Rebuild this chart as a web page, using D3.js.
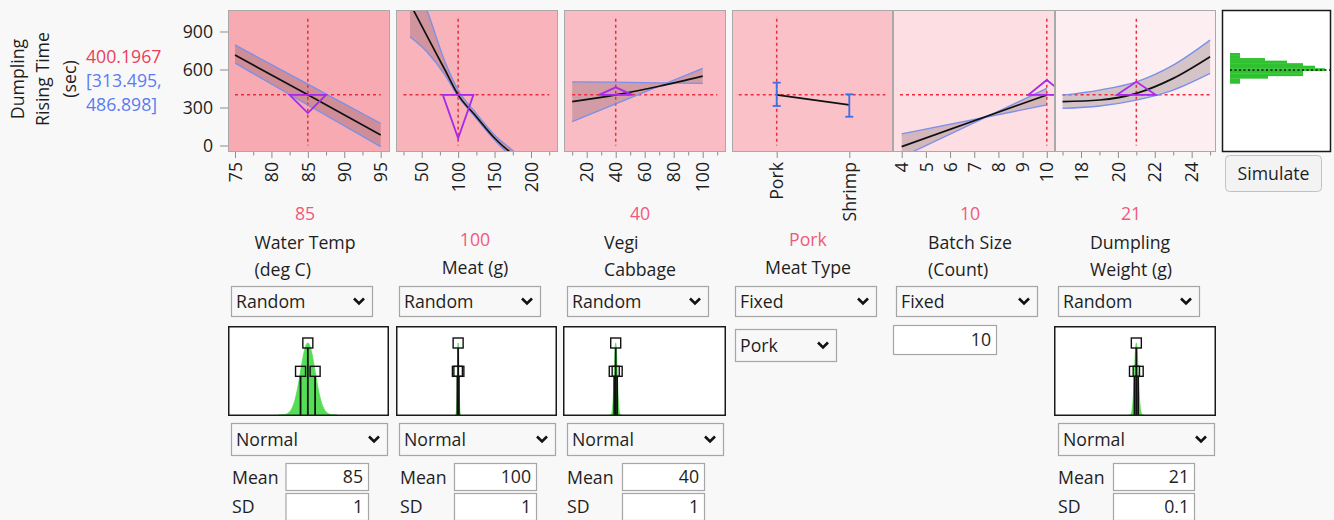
<!DOCTYPE html>
<html><head><meta charset="utf-8">
<script src="https://cdn.jsdelivr.net/npm/d3@7"></script>
<style>
html,body{margin:0;padding:0;background:#f8f8f8;}
svg{display:block;font-family:"Open Sans","Noto Sans",sans-serif;}
</style></head><body>
<svg id="c" width="1334" height="520"></svg>
<script>
// ---------------- data ----------------
const responseName = ["Dumpling","Rising Time","(sec)"];
const predictedText = "400.1967";
const ciText = ["[313.495,","486.898]"];
const predicted = 400.1967;
const yTicks = [0,300,600,900];

const factorLabels = [["Water Temp","(deg C)"],["Meat (g)"],["Vegi","Cabbage"],["Meat Type"],["Batch Size","(Count)"],["Dumpling","Weight (g)"]];
const currentText = ["85","100","40","Pork","10","21"];
const currentX = [85,100,40,"Pork",10,21];
const panelShade = ["#f7aab2","#f8b3bb","#f9bcc4","#fac1c8","#fddee2","#fdeff1"];

// Water Temp (deg C)
const tempX = [75,85,95];
const tempPred = [714,400,83];
const tempHi = [794,485,175];
const tempLo = [651,320,-9];
const tempMajor = [75,80,85,90,95];
const tempMinor = [77.5,82.5,87.5,92.5];

// Meat (g)
const meatX = [34,59,82,100,123,150,171,185];
const meatPred = [1120,846,596,400,241,59,-49,-95];
const meatBandX = [34,57,82,100,123,150,175,185];
const meatHi = [1350,1070,661,438,267,83,-40,-90];
const meatLo = [859,740,556,385,227,43,-100,-150];
const meatMajor = [50,100,150,200];
const meatMinor = [25,75,125,175,225];

// Vegi Cabbage
const vegX = [10,40,70,100];
const vegPred = [346,400,468,548];
const vegA = [503,500,495,490];
const vegB = [188,328,468,609];
const vegMajor = [20,40,60,80,100];
const vegMinor = [10,30,50,70,90,110];

// Meat Type
const meatTypes = ["Pork","Shrimp"];
const typePred = [400,320];
const typeLo = [312,227];
const typeHi = [496,404];

// Batch Size (Count)
const batchX = [4,10];
const batchPred = [-9,399];
const batchA = [91,320];
const batchB = [-91,451];
const batchMajor = [4,5,6,7,8,9,10];

// Dumpling Weight (g)
const wtX = [17,19,21,23,25];
const wtPred = [346,359,412,530,701];
const wtHi = [398,438,503,635,832];
const wtLo = [293,312,359,438,569];
const wtMajor = [18,20,22,24];
const wtMinor = [17,19,21,23,25];

// triangles (half-width in factor units, apex response value)
const triHalf = [2.5,21,11.5,null,0.76,1.05];
const triApex = [256,57,459,null,517,503];
// reference-line extents along factor
const refRange = [[75,95],[25,225],[10,110],null,[3.93,10.3],[17,25]];

// simulator settings
const modes = ["Random","Random","Random","Fixed","Fixed","Random"];
const distType = "Normal";
const distMean = [85,100,40,null,null,21];
const distSD = [1,1,1,null,null,0.1];
const meanText = ["85","100","40",null,null,"21"];
const sdText = ["1","1","1",null,null,"0.1"];
const fixedType = "Pork";
const fixedBatch = "10";

// simulated response histogram
const simBinStart = [490,510,530,550,570,590,610,630,650,670,690,710];
const simCounts = [10,10,38,73,73,95,85,73,57,35,10,10];
const simMean = 596;

// ---------------- drawing ----------------
const FS = 17.7;
const TXT = "#1e1e1e";
const svg = d3.select("#c");
svg.append("rect").attr("width",1334).attr("height",520).attr("fill","#f8f8f8");

const pTop = 10, pBot = 152;
const y = d3.scaleLinear().domain([-51.3,1069.7]).range([pBot,pTop]);
const px = [[228,390],[396,558],[564,726],[732,893],[893,1055],[1055,1216]];
const xs = [
  d3.scaleLinear().domain([74.04,96.28]).range(px[0]),
  d3.scaleLinear().domain([14.73,237.05]).range(px[1]),
  d3.scaleLinear().domain([4.34,116.07]).range(px[2]),
  d3.scalePoint().domain(meatTypes).range([776.7,849.3]),
  d3.scaleLinear().domain([3.64,10.34]).range(px[4]),
  d3.scaleLinear().domain([16.59,25.32]).range(px[5])
];

const defs = svg.append("defs");
px.forEach((p,i)=>{
  defs.append("clipPath").attr("id","clip"+i).append("rect")
    .attr("x",p[0]).attr("y",pTop).attr("width",p[1]-p[0]).attr("height",pBot-pTop);
});

const curves = [
  {x:tempX, pred:tempPred, bx:tempX, a:tempHi, b:tempLo},
  {x:meatX, pred:meatPred, bx:meatBandX, a:meatHi, b:meatLo},
  {x:vegX, pred:vegPred, bx:vegX, a:vegA, b:vegB},
  null,
  {x:batchX, pred:batchPred, bx:batchX, a:batchA, b:batchB},
  {x:wtX, pred:wtPred, bx:wtX, a:wtHi, b:wtLo}
];

const RED = "#ee2a3c", BLUE = "#7a90ea", PURPLE = "#a82ae8";

px.forEach((p,i)=>{
  const g = svg.append("g");
  g.append("rect").attr("x",p[0]).attr("y",pTop).attr("width",p[1]-p[0]).attr("height",pBot-pTop)
    .attr("fill",panelShade[i]);
  const c = g.append("g").attr("clip-path",`url(#clip${i})`);
  const X = xs[i];
  if (curves[i]) {
    const cv = curves[i];
    const band = cv.bx.map((v,k)=>({x:v,a:cv.a[k],b:cv.b[k]}));
    c.append("path").datum(band)
      .attr("d",d3.area().x(d=>X(d.x)).y0(d=>y(d.a)).y1(d=>y(d.b)).curve(d3.curveMonotoneX))
      .attr("fill","rgba(70,45,55,0.22)");
    c.append("line").attr("x1",X(refRange[i][0])).attr("x2",X(refRange[i][1]))
      .attr("y1",y(predicted)).attr("y2",y(predicted))
      .attr("stroke",RED).attr("stroke-width",1.5).attr("stroke-dasharray","3,3");
    c.append("line").attr("x1",X(currentX[i])).attr("x2",X(currentX[i]))
      .attr("y1",y(1000)).attr("y2",y(0))
      .attr("stroke",RED).attr("stroke-width",1.5).attr("stroke-dasharray","3,3");
    ["a","b"].forEach(k=>{
      c.append("path").datum(band)
        .attr("d",d3.line().x(d=>X(d.x)).y(d=>y(d[k])).curve(d3.curveMonotoneX))
        .attr("fill","none").attr("stroke",BLUE).attr("stroke-width",1.3);
    });
    const pts = cv.x.map((v,k)=>({x:v,v:cv.pred[k]}));
    c.append("path").datum(pts)
      .attr("d",d3.line().x(d=>X(d.x)).y(d=>y(d.v)).curve(d3.curveMonotoneX))
      .attr("fill","none").attr("stroke","#111").attr("stroke-width",1.7);
    const cx = currentX[i], h = triHalf[i];
    const tri = [[X(cx-h),y(predicted)],[X(cx+h),y(predicted)],[X(cx),y(triApex[i])]];
    c.append("path").attr("d",d3.line()(tri)+"Z")
      .attr("fill","none").attr("stroke",PURPLE).attr("stroke-width",1.8);
  } else {
    const xp = X("Pork"), xsh = X("Shrimp");
    c.append("line").attr("x1",xp-38).attr("x2",xsh+36)
      .attr("y1",y(predicted)).attr("y2",y(predicted))
      .attr("stroke",RED).attr("stroke-width",1.5).attr("stroke-dasharray","3,3");
    c.append("line").attr("x1",xp).attr("x2",xp).attr("y1",y(1000)).attr("y2",y(0))
      .attr("stroke",RED).attr("stroke-width",1.5).attr("stroke-dasharray","3,3");
    c.append("path").datum(meatTypes.map((t,k)=>({t,v:typePred[k]})))
      .attr("d",d3.line().x(d=>X(d.t)).y(d=>y(d.v)))
      .attr("fill","none").attr("stroke","#111").attr("stroke-width",1.7);
    meatTypes.forEach((t,k)=>{
      const xx = X(t);
      c.append("line").attr("x1",xx).attr("x2",xx).attr("y1",y(typeLo[k])).attr("y2",y(typeHi[k]))
        .attr("stroke","#3e6ee6").attr("stroke-width",1.8);
      [typeLo[k],typeHi[k]].forEach(v=>{
        c.append("line").attr("x1",xx-4).attr("x2",xx+4).attr("y1",y(v)).attr("y2",y(v))
          .attr("stroke","#3e6ee6").attr("stroke-width",1.8);
      });
    });
  }
  g.append("rect").attr("x",p[0]+0.5).attr("y",pTop+0.5).attr("width",p[1]-p[0]-1).attr("height",pBot-pTop-1)
    .attr("fill","none").attr("stroke","#a9a9a9");
});

// x axes
const majors = [tempMajor,meatMajor,vegMajor,meatTypes,batchMajor,wtMajor];
const minors = [tempMinor,meatMinor,vegMinor,[],[],wtMinor];
majors.forEach((m,i)=>{
  const ax = svg.append("g").attr("transform",`translate(0,${pBot})`)
    .call(d3.axisBottom(xs[i]).tickValues(m).tickFormat(d=>String(d)).tickSize(6).tickSizeOuter(0));
  ax.select(".domain").remove();
  ax.selectAll("line").attr("stroke","#8c8c8c");
  ax.selectAll("text").attr("transform","rotate(-90)").attr("x",-10).attr("y",0).attr("dy","0.35em")
    .style("text-anchor","end").style("font-size",FS+"px").style("font-family","Open Sans").attr("fill",TXT);
  if (minors[i].length) {
    const mx = svg.append("g").attr("transform",`translate(0,${pBot})`)
      .call(d3.axisBottom(xs[i]).tickValues(minors[i]).tickSize(3.5).tickFormat(""));
    mx.select(".domain").remove();
    mx.selectAll("line").attr("stroke","#8c8c8c");
  }
});

// y axis
const yax = svg.append("g").attr("transform",`translate(${px[0][0]},0)`)
  .call(d3.axisLeft(y).tickValues(yTicks).tickFormat(d=>String(d)).tickSize(8).tickPadding(7).tickSizeOuter(0));
yax.select(".domain").remove();
yax.selectAll("line").attr("stroke","#8c8c8c");
yax.selectAll("text").style("font-size",FS+"px").style("font-family","Open Sans").attr("fill",TXT);

// response title
[18,43,70].forEach((cx,k)=>{
  svg.append("text").attr("transform",`translate(${cx},79) rotate(-90)`).attr("dy","0.35em")
    .attr("text-anchor","middle").attr("font-size",FS).attr("fill",TXT).text(responseName[k]);
});
svg.append("text").attr("x",86).attr("y",63).attr("font-size",FS).attr("fill","#ea3f5b").text(predictedText);
svg.append("text").attr("x",86).attr("y",87).attr("font-size",FS).attr("fill","#5b7cf0").text(ciText[0]);
svg.append("text").attr("x",86).attr("y",111).attr("font-size",FS).attr("fill","#5b7cf0").text(ciText[1]);

// simulator output box
svg.append("rect").attr("x",1222.5).attr("y",10.5).attr("width",108).attr("height",141)
  .attr("fill","#fff").attr("stroke","#1a1a1a").attr("stroke-width",1.5);
const cnt = d3.scaleLinear().domain([0,95]).range([1230,1325]);
svg.append("g").selectAll("rect").data(simBinStart).join("rect")
  .attr("x",cnt(0)).attr("y",(d)=>y(d+20)).attr("width",(d,k)=>cnt(simCounts[k])-cnt(0))
  .attr("height",d=>y(d)-y(d+20)+0.3).attr("fill","#2fc12f");
svg.append("line").attr("x1",1230).attr("x2",1330).attr("y1",y(simMean)).attr("y2",y(simMean))
  .attr("stroke","#111").attr("stroke-width",1.6).attr("stroke-dasharray","2,2.5");
svg.append("rect").attr("x",1225.5).attr("y",155.5).attr("width",96).attr("height",36).attr("rx",4)
  .attr("fill","#f3f3f3").attr("stroke","#c2c2c2");
svg.append("text").attr("x",1273.5).attr("y",179.5).attr("text-anchor","middle").attr("font-size",FS)
  .attr("fill",TXT).text("Simulate");

// ---------------- controls ----------------
const cols = [
  {cx:305, dd:[231,373], dist:[228,389], dd2:[231,388], lbl:232, box:[285.5,369]},
  {cx:475, dd:[399,541], dist:[396,557], dd2:[399,556], lbl:400, box:[454,537]},
  {cx:640, dd:[567,709], dist:[563,726], dd2:[567,724], lbl:567, box:[622,705]},
  {cx:808, dd:[735,877], sel:[735,837]},
  {cx:970, dd:[896,1038], input:[893,997]},
  {cx:1131, dd:[1058,1200], dist:[1054,1216], dd2:[1058,1215], lbl:1058, box:[1113,1195]}
];
function chevron(x,yc){
  svg.append("path").attr("d",`M${x-5},${yc-3} L${x},${yc+2} L${x+5},${yc-3}`)
    .attr("fill","none").attr("stroke","#111").attr("stroke-width",2.6).attr("stroke-linejoin","miter");
}
function dropdown(r,y0,y1,label){
  svg.append("rect").attr("x",r[0]+0.5).attr("y",y0+0.5).attr("width",r[1]-r[0]-1).attr("height",y1-y0-1)
    .attr("fill","#f8f8f8").attr("stroke","#a6a6a6").attr("stroke-width",1.2);
  svg.append("text").attr("x",r[0]+5).attr("y",(y0+y1)/2+6).attr("font-size",FS).attr("fill",TXT).text(label);
  chevron(r[1]-14,(y0+y1)/2);
}
function inputBox(r,y0,y1,val){
  svg.append("rect").attr("x",r[0]+0.5).attr("y",y0+0.5).attr("width",r[1]-r[0]-1).attr("height",y1-y0-1)
    .attr("fill","#fff").attr("stroke","#a6a6a6").attr("stroke-width",1.2);
  svg.append("text").attr("x",r[1]-6).attr("y",(y0+y1)/2+6).attr("text-anchor","end")
    .attr("font-size",FS).attr("fill",TXT).text(val);
}

cols.forEach((c,i)=>{
  const lines = factorLabels[i];
  const two = lines.length===2;
  svg.append("text").attr("x",c.cx).attr("y",two?220:246).attr("text-anchor","middle")
    .attr("font-size",FS).attr("fill","#f2587a").text(currentText[i]);
  if (two) {
    const t = svg.append("text").attr("font-size",FS).attr("fill",TXT);
    const ts = lines.map((l,k)=>t.append("tspan").attr("y",k?276:249).text(l));
    const w = Math.max(...ts.map(s=>s.node().getComputedTextLength()));
    ts.forEach(s=>s.attr("x",c.cx-w/2));
  } else {
    svg.append("text").attr("x",c.cx).attr("y",274).attr("text-anchor","middle")
      .attr("font-size",FS).attr("fill",TXT).text(lines[0]);
  }
  dropdown(c.dd,286,317,modes[i]);
  if (c.sel) dropdown(c.sel,329,362,fixedType);
  if (c.input) inputBox(c.input,325,355,fixedBatch);
  if (c.dist) {
    const X = xs[i];
    const d0=c.dist[0], d1=c.dist[1], b0=326, b1=416;
    const cid = "dclip"+i;
    defs.append("clipPath").attr("id",cid).append("rect").attr("x",d0).attr("y",b0).attr("width",d1-d0).attr("height",b1-b0);
    svg.append("rect").attr("x",d0).attr("y",b0).attr("width",d1-d0).attr("height",b1-b0).attr("fill","#fff");
    const g = svg.append("g").attr("clip-path",`url(#${cid})`);
    const m = distMean[i], s = distSD[i];
    const hgt = 72, base = b1-1;
    const zs = d3.range(-4,4.001,0.1);
    g.append("path").datum(zs)
      .attr("d",d3.area().x(z=>X(m+z*s)).y0(base).y1(z=>base-hgt*Math.exp(-0.5*z*z)))
      .attr("fill","#55dd55").attr("stroke","#55dd55").attr("stroke-width",0.8);
    const side = base-hgt*Math.exp(-0.5);
    [[m,base-hgt],[m-s,side],[m+s,side]].forEach(([v,yy])=>{
      g.append("line").attr("x1",X(v)).attr("x2",X(v)).attr("y1",yy+5).attr("y2",base+2)
        .attr("stroke","#111").attr("stroke-width",1.8);
      g.append("rect").attr("x",X(v)-5).attr("y",yy-5).attr("width",10).attr("height",10)
        .attr("fill","none").attr("stroke","#111").attr("stroke-width",1.4);
    });
    svg.append("rect").attr("x",d0+0.75).attr("y",b0+0.75).attr("width",d1-d0-1.5).attr("height",b1-b0-1.5)
      .attr("fill","none").attr("stroke","#1a1a1a").attr("stroke-width",1.5);
    dropdown(c.dd2,423,456,distType);
    svg.append("text").attr("x",c.lbl).attr("y",484).attr("font-size",FS).attr("fill",TXT).text("Mean");
    svg.append("text").attr("x",c.lbl).attr("y",513).attr("font-size",FS).attr("fill",TXT).text("SD");
    inputBox(c.box,463,491,meanText[i]);
    inputBox(c.box,493,521,sdText[i]);
  }
});
</script></body></html>
